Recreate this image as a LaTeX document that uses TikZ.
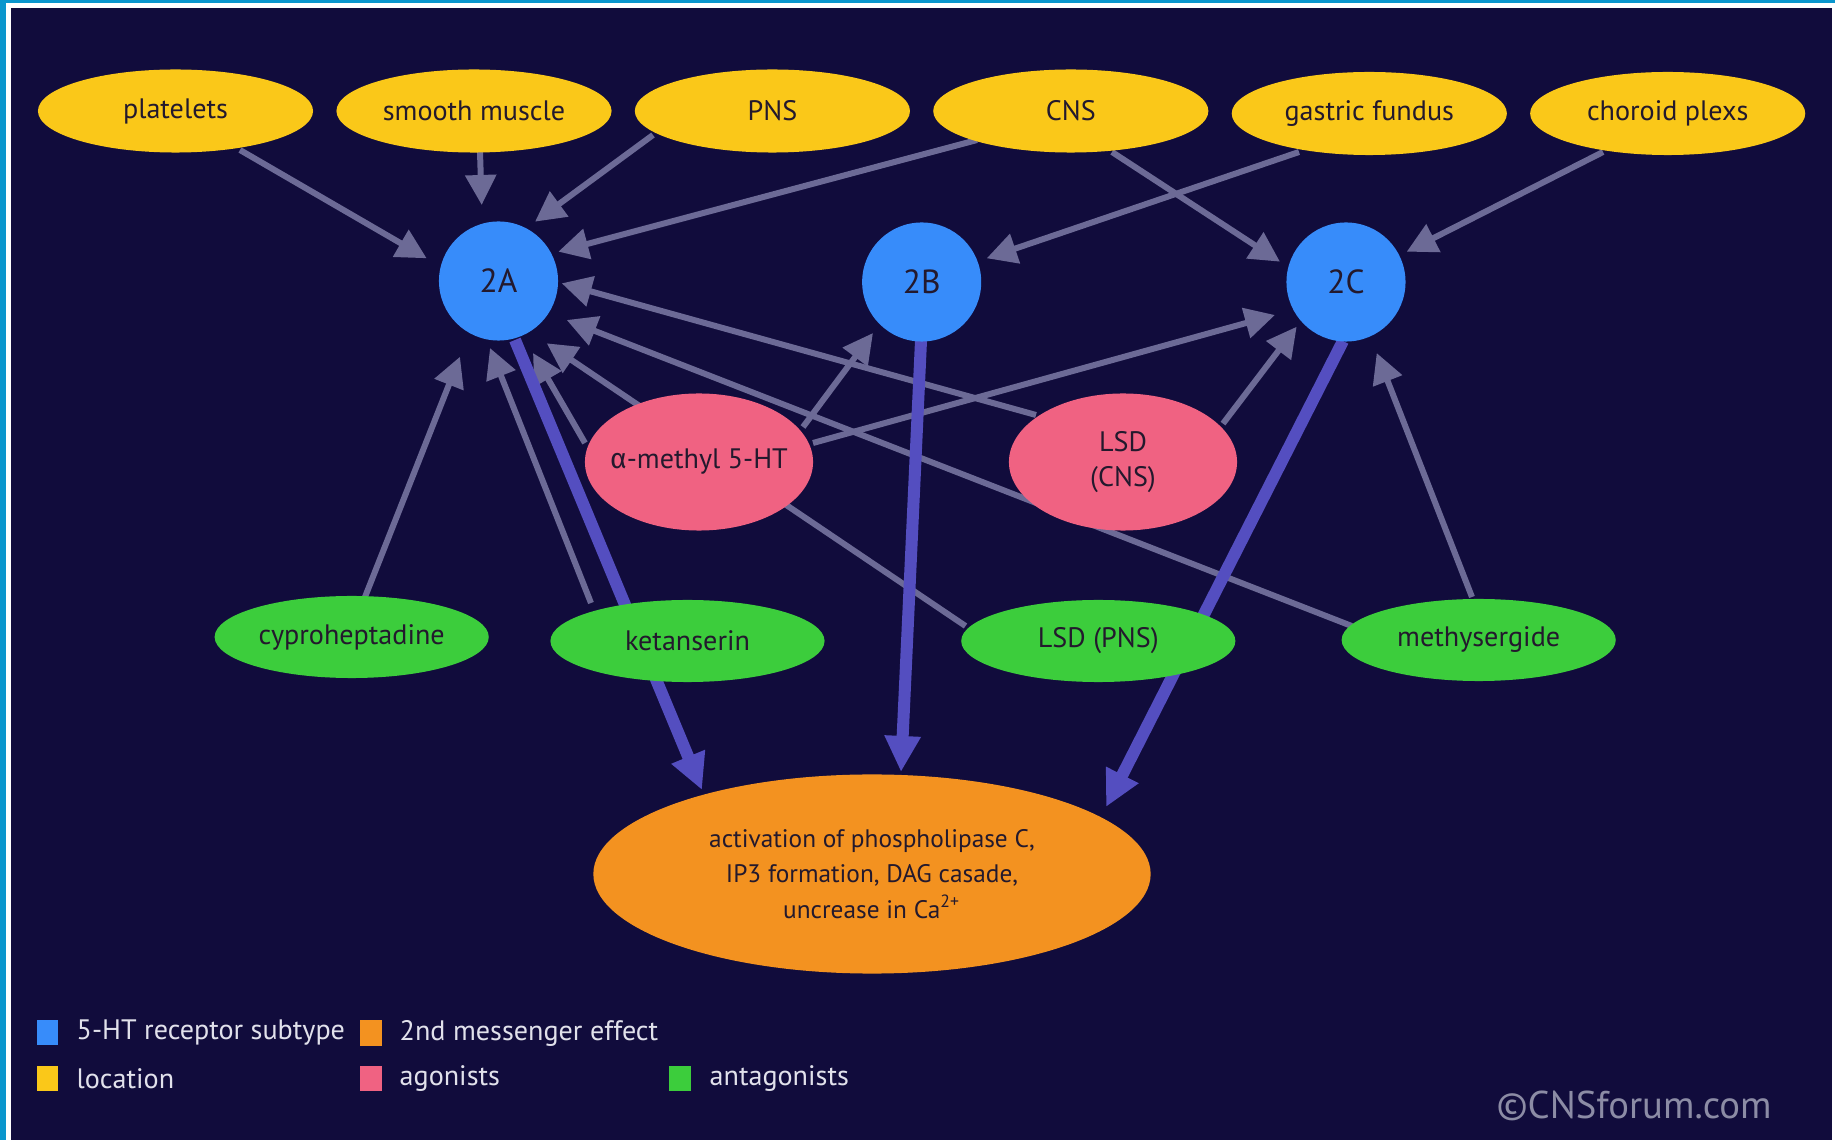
\documentclass[tikz,border=0pt]{standalone}
\usepackage{fontspec}
\setmainfont{PT Sans}
\newfontfamily\grkfont{Fira Sans}
\usetikzlibrary{shapes.geometric,arrows.meta,calc}
\definecolor{bgc}{RGB}{17,12,60}
\definecolor{framec}{RGB}{10,150,205}
\definecolor{ylw}{RGB}{250,200,25}
\definecolor{blu}{RGB}{55,140,250}
\definecolor{pnk}{RGB}{240,98,130}
\definecolor{grn}{RGB}{60,205,60}
\definecolor{org}{RGB}{243,146,32}
\definecolor{txt}{RGB}{35,25,45}
\definecolor{legtxt}{RGB}{225,225,235}
\definecolor{cpy}{RGB}{140,140,165}
\definecolor{thinc}{RGB}{108,106,150}
\definecolor{thickc}{RGB}{84,78,192}
\pgfdeclarelayer{back}
\pgfdeclarelayer{edges}
\pgfsetlayers{back,edges,main}
\begin{document}
\begin{tikzpicture}[x=0.01cm,y=-0.01cm,
  lbl/.style={font=\fontsize{8}{10}\selectfont, text=txt, inner sep=0pt, align=center},
  loc/.style={lbl, ellipse, fill=ylw, minimum width=2.75cm, minimum height=0.83cm},
  rec/.style={lbl, circle, fill=blu, minimum size=1.19cm, font=\fontsize{9.5}{11}\selectfont},
  ago/.style={lbl, ellipse, fill=pnk, minimum width=2.28cm, minimum height=1.37cm, inner xsep=-5pt},
  ant/.style={lbl, ellipse, fill=grn, minimum width=2.74cm, minimum height=0.82cm},
  eff/.style={lbl, ellipse, fill=org, minimum width=5.57cm, minimum height=1.99cm, font=\fontsize{7.2}{10}\selectfont},
  thinarr/.style={draw=thinc, line width=0.06cm, -{Triangle[length=0.3cm,width=0.3cm]}},
  thickarr/.style={draw=thickc, line width=0.12cm, -{Triangle[length=0.36cm,width=0.34cm]}},
  legsq/.style={minimum width=0.21cm, minimum height=0.25cm, inner sep=0pt},
  legtext/.style={anchor=west, inner sep=0pt, text=legtxt, font=\fontsize{8}{10}\selectfont}
]
\useasboundingbox (0,0) rectangle (1835,1140);
\begin{pgfonlayer}{back}
  \fill[framec] (0,0) rectangle (1835,1140);
  \fill[white] (6,3) rectangle (1835,1140);
  \fill[bgc] (11,8) rectangle (1832,1140);
\end{pgfonlayer}

% locations
\node[loc] (plat) at (175.5,111) {platelets};
\node[loc] (smus) at (474,111) {smooth muscle};
\node[loc] (pns)  at (772.4,111) {PNS};
\node[loc] (cns)  at (1070.8,111) {CNS};
\node[loc] (gast) at (1369.3,113.5) {gastric fundus};
\node[loc] (chor) at (1667.7,113.5) {choroid plexs};

% receptor subtypes
\node[rec] (A2) at (498.5,281) {2A};
\node[rec] (B2) at (921.7,282) {2B};
\node[rec] (C2) at (1346,282) {2C};

% agonists
\node[ago] (amet) at (699,462) {{\grkfont α}-methyl 5-HT};
\node[ago] (lsdc) at (1123,462) {LSD\\(CNS)};

% antagonists
\node[ant] (cypro) at (351.7,637) {cyproheptadine};
\node[ant] (ketan) at (687.5,641) {ketanserin};
\node[ant] (lsdp)  at (1098.3,641) {LSD (PNS)};
\node[ant] (methy) at (1478.7,640) {methysergide};

% effect
\node[eff] (eff) at (872,874) {activation of phospholipase C,\\IP3 formation, DAG casade,\\uncrease in Ca\textsuperscript{2+}};

\begin{pgfonlayer}{edges}
  \draw[thinarr] ($(plat)+(64.5,39)$) -- ($(A2)+(-71.8,-22.7)$);
  \draw[thinarr] ($(smus)+(6,41)$) -- ($(A2)+(-16.8,-76)$);
  \draw[thinarr] ($(pns)+(-119.4,24)$) -- ($(A2)+(36.5,-59.3)$);
  \draw[thinarr] ($(cns)+(-93.8,29)$) -- ($(A2)+(59.8,-29.3)$);
  \draw[thinarr] ($(cns)+(41.2,41)$) -- ($(C2)+(-66,-20.3)$);
  \draw[thinarr] ($(gast)+(-70.3,38.5)$) -- ($(B2)+(65,-23.7)$);
  \draw[thinarr] ($(chor)+(-64.7,38.5)$) -- ($(C2)+(60.7,-30.3)$);
  \draw[thinarr] ($(amet)+(-114,-19)$) -- ($(A2)+(34.5,72)$);
  \draw[thinarr] ($(amet)+(104,-35)$) -- ($(B2)+(-48.7,51)$);
  \draw[thinarr] ($(amet)+(114,-19)$) -- ($(C2)+(-71,33)$);
  \draw[thinarr] ($(lsdc)+(-87,-47)$) -- ($(A2)+(63.2,2.3)$);
  \draw[thinarr] ($(lsdc)+(100,-38.4)$) -- ($(C2)+(-49.3,44.7)$);
  \draw[thinarr] ($(cypro)+(13.3,-40)$) -- ($(A2)+(-38.5,75.7)$);
  \draw[thinarr] ($(ketan)+(-96.5,-38)$) -- ($(A2)+(-8.5,67)$);
  \draw[thinarr] ($(lsdp)+(-132.8,-15)$) -- ($(A2)+(48.2,62.3)$);
  \draw[thinarr] ($(methy)+(-127,-14)$) -- ($(A2)+(68.2,39)$);
  \draw[thinarr] ($(methy)+(-6.7,-43)$) -- ($(C2)+(30.7,71)$);
  \draw[thickarr] ($(A2)+(16.5,59)$) -- ($(eff)+(-170,-84)$);
  \draw[thickarr] ($(B2)+(-0.7,59)$) -- ($(eff)+(29,-102)$);
  \draw[thickarr] ($(C2)+(-3,59)$) -- ($(eff)+(234,-67)$);
\end{pgfonlayer}

% legend
\node[legsq, fill=blu] (lq1) at (47.8,1032.6) {};
\node[legtext] (lt1) at (76,1032.6) {5-HT receptor subtype};
\node[legsq, fill=org] (lq2) at (371,1033) {};
\node[legtext] (lt2) at (399,1033) {2nd messenger effect};
\node[legsq, fill=ylw] (lq3) at (47.8,1078.6) {};
\node[legtext] (lt3) at (76,1078.6) {location};
\node[legsq, fill=pnk] (lq4) at (371,1078.6) {};
\node[legtext] (lt4) at (399,1078.6) {agonists};
\node[legsq, fill=grn] (lq5) at (680,1078.6) {};
\node[legtext] (lt5) at (709,1078.6) {antagonists};

\node[text=cpy, font=\fontsize{11}{13}\selectfont, inner sep=0pt] (copy) at (1634,1106) {©CNSforum.com};
\end{tikzpicture}
\end{document}
